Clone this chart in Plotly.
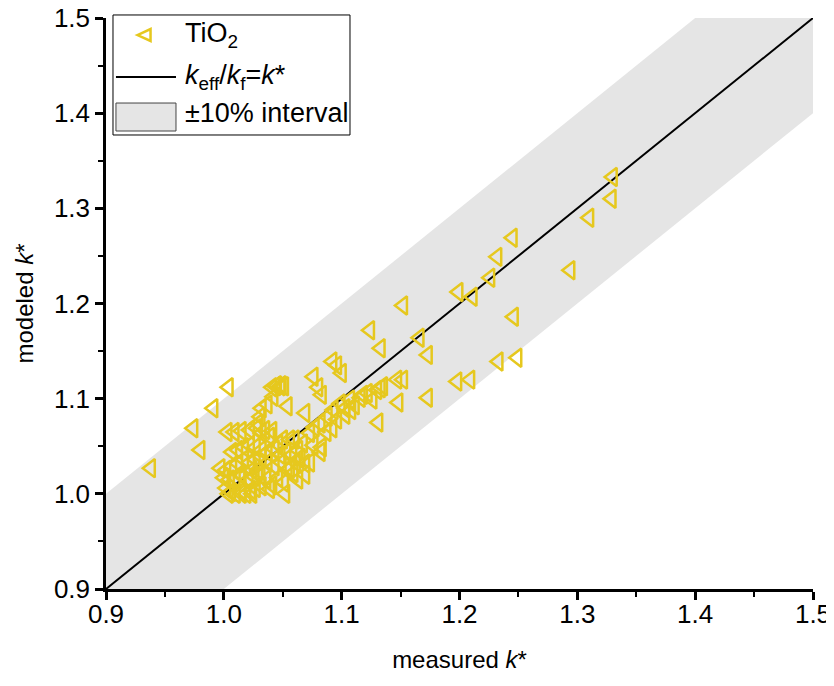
import plotly.graph_objects as go

# measured k* (x) and modeled k* (y) for TiO2
measured = [
    0.938, 0.974, 0.980, 0.991, 1.004,
    1.003, 1.009, 1.015, 1.022, 1.028, 1.035, 1.041, 1.031, 1.032, 1.037, 1.042, 1.041, 1.044, 1.048, 1.051,
    1.054, 1.056, 1.050, 1.046, 1.007, 1.012, 1.017, 1.022, 1.027, 1.032, 1.037, 1.043, 1.048, 1.053, 1.058,
    0.997, 1.002, 1.007, 1.012, 1.017, 1.022, 1.027, 1.032, 1.037, 1.043, 1.049, 1.054,
    1.000, 1.005, 1.010, 1.015, 1.021, 1.026, 1.031, 1.036, 1.041, 1.046, 1.051,
    1.002, 1.006, 1.010, 1.015, 1.019, 1.023, 1.027, 1.032, 1.039, 1.014, 1.024, 1.029, 1.004, 1.015, 1.024,
    1.056, 1.059, 1.061, 1.065, 1.069, 1.073, 1.067, 1.073, 1.077, 1.082, 1.088, 1.093, 1.099, 1.083, 1.082,
    1.069, 1.063, 1.060, 1.076, 1.087, 1.092, 1.096, 1.103, 1.108, 1.063, 1.052,
    1.029, 1.032, 1.039, 1.045, 1.049, 1.069, 1.076, 1.080, 1.083, 1.092, 1.096, 1.100,
    1.107, 1.116, 1.118, 1.122, 1.130, 1.133, 1.135, 1.111, 1.103, 1.126, 1.131, 1.148, 1.147, 1.152, 1.133,
    1.124, 1.152, 1.166, 1.173, 1.173, 1.198, 1.209, 1.199, 1.211, 1.226, 1.232, 1.245, 1.246, 1.233, 1.249,
    1.294, 1.310, 1.329, 1.330,
]
modeled = [
    1.027, 1.069, 1.046, 1.090, 1.112,
    1.065, 1.065, 1.066, 1.067, 1.069, 1.067, 1.066, 1.081, 1.090, 1.094, 1.102, 1.112, 1.113, 1.113, 1.113,
    1.092, 1.057, 1.057, 1.052, 1.044, 1.046, 1.049, 1.051, 1.049, 1.046, 1.044, 1.047, 1.041, 1.044, 1.041,
    1.027, 1.025, 1.029, 1.032, 1.036, 1.033, 1.036, 1.039, 1.033, 1.029, 1.033, 1.025,
    1.017, 1.015, 1.017, 1.019, 1.015, 1.018, 1.019, 1.015, 1.009, 1.017, 1.012,
    1.006, 1.002, 1.000, 1.003, 1.000, 1.004, 1.006, 1.008, 1.005, 1.021, 1.025, 1.025, 1.000, 1.000, 1.000,
    1.027, 1.022, 1.033, 1.038, 1.032, 1.033, 1.053, 1.064, 1.070, 1.074, 1.081, 1.088, 1.095, 1.049, 1.044,
    1.020, 1.046, 1.057, 1.051, 1.065, 1.069, 1.078, 1.083, 1.088, 1.015, 1.000,
    1.074, 1.064, 1.060, 1.114, 1.114, 1.085, 1.123, 1.112, 1.104, 1.139, 1.135, 1.127,
    1.099, 1.101, 1.104, 1.106, 1.109, 1.111, 1.113, 1.093, 1.090, 1.099, 1.075, 1.096, 1.120, 1.120, 1.153,
    1.172, 1.198, 1.164, 1.146, 1.101, 1.118, 1.120, 1.212, 1.207, 1.227, 1.249, 1.269, 1.186, 1.139, 1.143,
    1.235, 1.290, 1.310, 1.333,
]

line_x = [0.9, 1.5]
band_x = [0.9, 1.5, 1.5, 0.9]
band_offset = 0.1

x_ticks = [0.9, 1.0, 1.1, 1.2, 1.3, 1.4, 1.5]
x_tick_labels = ["0.9", "1.0", "1.1", "1.2", "1.3", "1.4", "1.5"]
y_ticks = [0.9, 1.0, 1.1, 1.2, 1.3, 1.4, 1.5]
y_tick_labels = ["0.9", "1.0", "1.1", "1.2", "1.3", "1.4", "1.5"]

legend_labels = ["TiO<sub>2</sub>",
                 "<i>k</i><sub>eff</sub>/<i>k</i><sub>f</sub>=<i>k</i>*",
                 "±10% interval"]

YELLOW = "#E6C81E"
BAND = "#E5E5E5"
FONT = "Liberation Sans, Arial, sans-serif"

band_y = [band_x[0] + band_offset, band_x[1] + band_offset,
          band_x[2] - band_offset, band_x[3] - band_offset]

fig = go.Figure()

fig.add_trace(go.Scatter(
    x=band_x, y=band_y, fill="toself", fillcolor=BAND,
    line=dict(width=0), mode="lines", showlegend=False, hoverinfo="skip",
))

fig.add_trace(go.Scatter(
    x=line_x, y=line_x, mode="lines", showlegend=False,
    line=dict(color="black", width=2),
))

fig.add_trace(go.Scatter(
    x=measured, y=modeled, mode="markers", showlegend=False,
    marker=dict(symbol="triangle-left-open", size=16, color=YELLOW,
                line=dict(width=2.5, color=YELLOW)),
))

axis_common = dict(
    showline=True, linecolor="black", linewidth=2.5, mirror=False,
    ticks="outside", ticklen=8, tickwidth=2.5, tickcolor="black",
    showgrid=False, zeroline=False, range=[0.9, 1.5], automargin=False,
    ticklabeloverflow="allow",
    tickfont=dict(size=26, color="black", family=FONT),
    minor=dict(dtick=0.05, ticks="outside", ticklen=5, tickwidth=2, tickcolor="black", showgrid=False),
)

# ---- manual legend (paper coordinates) ----
shapes = [
    dict(type="rect", xref="paper", yref="paper", x0=0.0099, x1=0.3451, y0=0.7951, y1=1.0053,
         fillcolor="white", line=dict(color="black", width=1), layer="above"),
    dict(type="path", xref="paper", yref="paper",
         path="M 0.0445,0.9702 L 0.0630,0.9807 L 0.0630,0.9597 Z",
         line=dict(color=YELLOW, width=2.5), layer="above"),
    dict(type="line", xref="paper", yref="paper", x0=0.0141, x1=0.0990, y0=0.8967, y1=0.8967,
         line=dict(color="black", width=2), layer="above"),
    dict(type="rect", xref="paper", yref="paper", x0=0.0141, x1=0.0990, y0=0.8021, y1=0.8511,
         fillcolor=BAND, line=dict(color="#444444", width=1), layer="above"),
]
legend_y = [0.9702, 0.8967, 0.8336]
annotations = [
    dict(text=t, xref="paper", yref="paper", x=0.1089, y=yy, xanchor="left", yanchor="middle",
         showarrow=False, font=dict(size=27, family=FONT, color="black"))
    for t, yy in zip(legend_labels, legend_y)
]

fig.update_layout(
    width=834, height=686,
    margin=dict(l=98, r=29, t=10, b=105),
    plot_bgcolor="white", paper_bgcolor="white",
    font=dict(family=FONT, size=24, color="black"),
    xaxis=dict(**axis_common, tickvals=x_ticks, ticktext=x_tick_labels, ticklabelstandoff=-8,
               title=dict(text="measured <i>k</i>*", font=dict(size=24), standoff=24)),
    yaxis=dict(**axis_common, tickvals=y_ticks, ticktext=y_tick_labels,
               title=dict(text="modeled <i>k</i>*", font=dict(size=24), standoff=14)),
    shapes=shapes,
    annotations=annotations,
    showlegend=False,
)

fig.write_html("out.html")
